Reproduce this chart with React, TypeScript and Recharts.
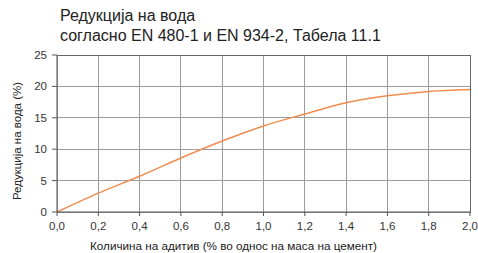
import { LineChart, Line, XAxis, YAxis, CartesianGrid } from "recharts";

// amount of admixture (% of cement mass)
const dosage = [0, 0.2, 0.4, 0.6, 0.8, 1.0, 1.2, 1.4, 1.6, 1.8, 2.0];
// water reduction (%)
const reduction = [0, 3.0, 5.7, 8.6, 11.3, 13.7, 15.6, 17.4, 18.5, 19.2, 19.5];

const xTicks = [0, 0.2, 0.4, 0.6, 0.8, 1.0, 1.2, 1.4, 1.6, 1.8, 2.0];
const yTicks = [0, 5, 10, 15, 20, 25];

const titleLines = ["Редукција на вода", "согласно EN 480-1 и EN 934-2, Табела 11.1"];
const xLabel = "Количина на адитив (% во однос на маса на цемент)";
const yLabel = "Редукција на вода (%)";

const data = dosage.map((d, i) => ({ x: d, y: reduction[i] }));

const font = "'Liberation Sans', Arial, sans-serif";

export default function App() {
  return (
    <div style={{ position: "absolute", left: 0, top: 0, width: 478, height: 253, background: "#fff", fontFamily: font }}>
      <div style={{ position: "absolute", left: 60, top: 6, fontSize: 16, lineHeight: "20px", color: "#222" }}>
        {titleLines.map((t) => (
          <div key={t}>{t}</div>
        ))}
      </div>
      <LineChart width={478} height={253} data={data} margin={{ top: 55, right: 8, left: 0, bottom: 11 }}>
        <CartesianGrid stroke="#9c9c9c" strokeWidth={1} shapeRendering="crispEdges" />
        <XAxis
          dataKey="x"
          type="number"
          domain={[0, 2]}
          ticks={xTicks}
          interval={0}
          height={30}
          stroke="#555"
          tickLine={{ stroke: "#555" }}
          tickSize={4}
          tickMargin={6}
          tick={{ fill: "#333", fontSize: 11.5, fontFamily: font }}
          tickFormatter={(v: number) => v.toFixed(1).replace(".", ",")}
          label={{ value: xLabel, position: "insideBottom", offset: -8, dx: -30, fill: "#222", fontSize: 11.7, fontFamily: font }}
        />
        <YAxis
          type="number"
          domain={[0, 25]}
          ticks={yTicks}
          width={57}
          stroke="#555"
          tickLine={{ stroke: "#555" }}
          tickSize={5}
          tickMargin={5}
          tick={{ fill: "#333", fontSize: 11.5, fontFamily: font }}
        />
        <Line
          type="monotone"
          dataKey="y"
          stroke="#f08c50"
          strokeWidth={1.5}
          dot={false}
          isAnimationActive={false}
        />
      </LineChart>
      {/* y axis title, rotated */}
      <div
        style={{
          position: "absolute",
          left: 17,
          top: 141,
          transform: "translate(-50%, -50%) rotate(-90deg)",
          whiteSpace: "nowrap",
          fontSize: 11.5,
          color: "#222",
        }}
      >
        {yLabel}
      </div>
      {/* frame on top / right */}
      <div style={{ position: "absolute", left: 57, top: 55, width: 414, height: 158, border: "1px solid #666", borderLeft: "none", borderBottom: "none", boxSizing: "border-box", pointerEvents: "none" }} />
    </div>
  );
}
